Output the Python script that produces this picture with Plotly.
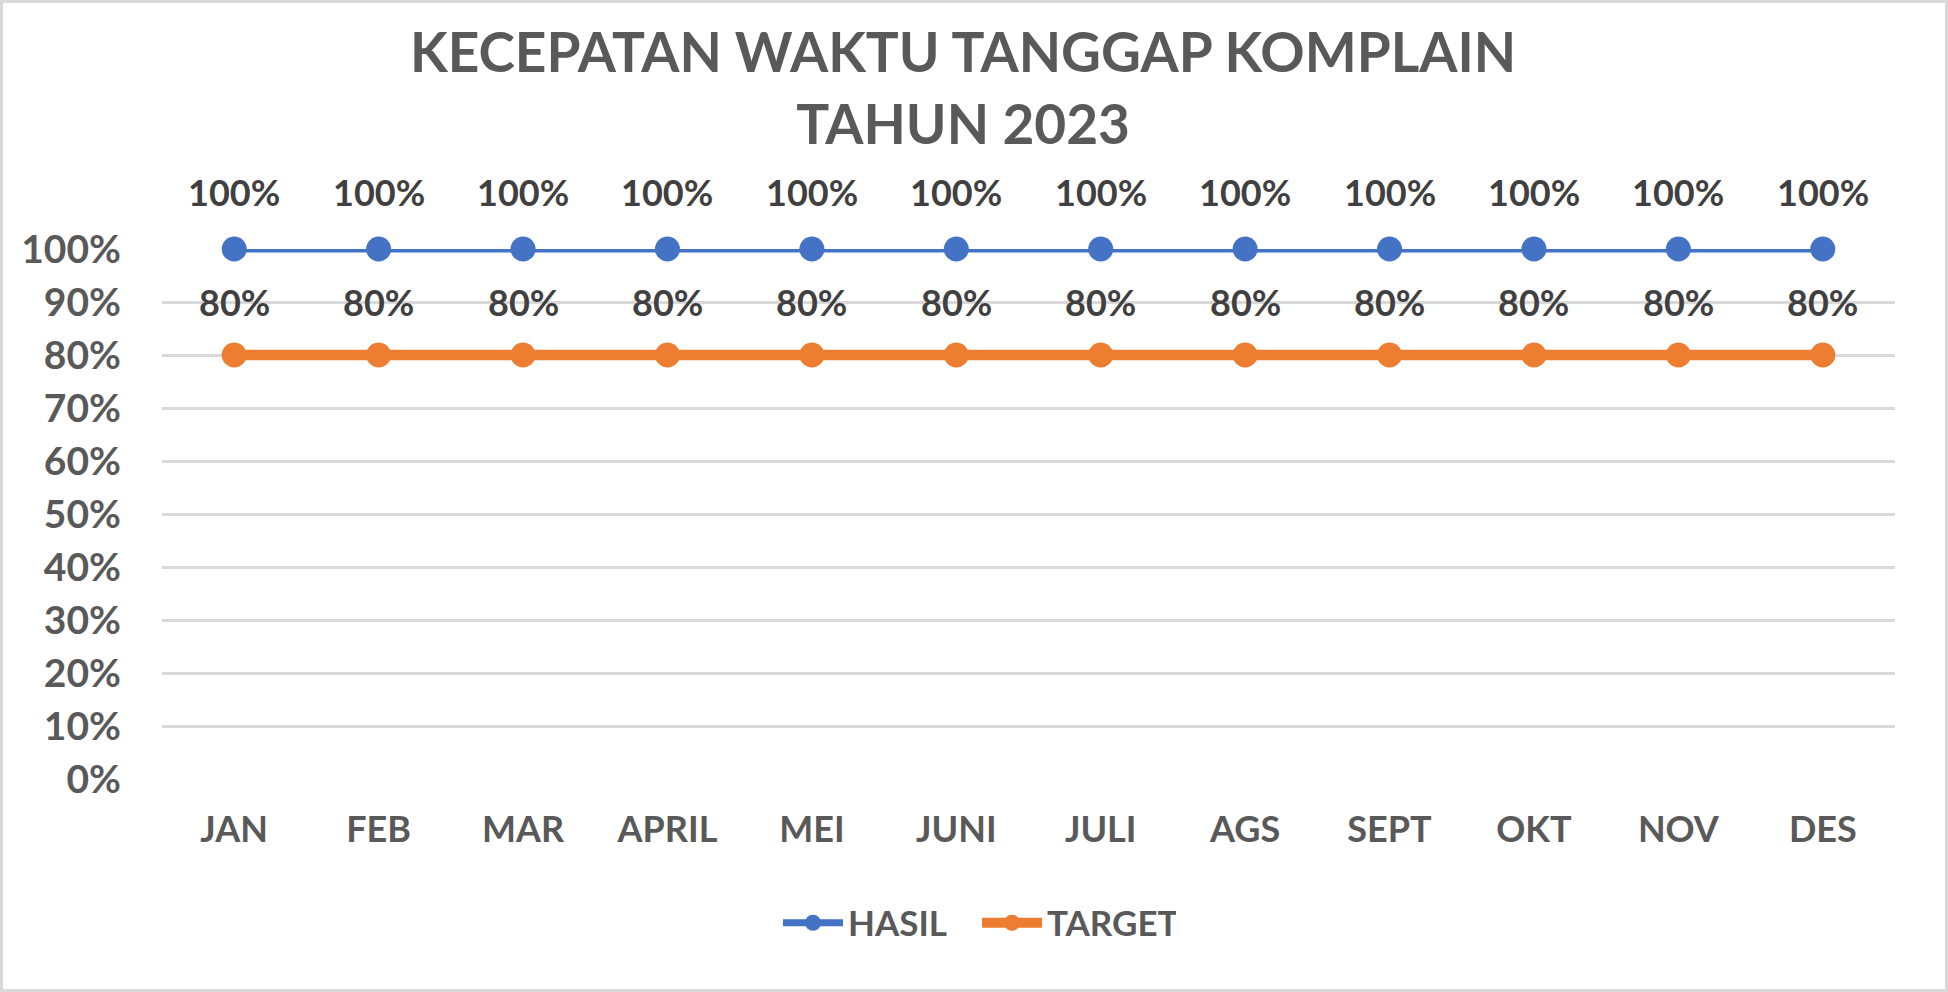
import plotly.graph_objects as go

# data
bulan = ['JAN', 'FEB', 'MAR', 'APRIL', 'MEI', 'JUNI', 'JULI', 'AGS', 'SEPT', 'OKT', 'NOV', 'DES']
hasil = [1.0, 1.0, 1.0, 1.0, 1.0, 1.0, 1.0, 1.0, 1.0, 1.0, 1.0, 1.0]
target = [0.8, 0.8, 0.8, 0.8, 0.8, 0.8, 0.8, 0.8, 0.8, 0.8, 0.8, 0.8]
y_ticks = [0, 0.1, 0.2, 0.3, 0.4, 0.5, 0.6, 0.7, 0.8, 0.9, 1.0]

W, H = 1948, 992
L, R, T, B = 162, 53, 249, 213
FONT = 'Lato'
GRAY = '#595959'
DARK = '#404040'

fig = go.Figure()

fig.add_trace(go.Scatter(x=bulan, y=hasil, name='HASIL', mode='lines+markers',
                         line=dict(color='#4472C4', width=7),
                         marker=dict(color='#4472C4', size=25),
                         cliponaxis=False))
fig.add_trace(go.Scatter(x=bulan, y=target, name='TARGET', mode='lines+markers',
                         line=dict(color='#ED7D31', width=10.5),
                         marker=dict(color='#ED7D31', size=25),
                         cliponaxis=False))

# label data di atas titik
for vals, shift in [(hasil, 57), (target, 53)]:
    for b, v in zip(bulan, vals):
        fig.add_annotation(x=b, y=v, text=f'{v:.0%}', showarrow=False,
                           yshift=shift, yanchor='middle',
                           font=dict(family=FONT, size=36, color=DARK, weight='bold'))

pw = W - L - R
ph = H - T - B

# judul
fig.add_annotation(text='KECEPATAN WAKTU TANGGAP KOMPLAIN<br>TAHUN 2023',
                   xref='paper', yref='paper',
                   x=(963 - L) / pw, y=(H - B - 16) / ph,
                   xanchor='center', yanchor='top', showarrow=False,
                   font=dict(family=FONT, size=55, color=GRAY, weight='bold'))

# garis tepi chart
fig.add_shape(type='rect', xref='paper', yref='paper',
              x0=(1.5 - L) / pw, x1=(W - 1.5 - L) / pw,
              y0=-(B - 1.5) / ph, y1=(H - B - 1.5) / ph,
              line=dict(color='#D9D9D9', width=3), layer='below')

fig.update_layout(
    width=W, height=H,
    margin=dict(l=L, r=R, t=T, b=B),
    paper_bgcolor='white', plot_bgcolor='white',
    showlegend=True,
    legend=dict(orientation='h', xref='container', yref='container',
                x=778 / W, xanchor='left', y=1 - 923 / H, yanchor='middle',
                font=dict(family=FONT, size=35, color=GRAY, weight='bold'),
                entrywidth=124, entrywidthmode='pixels', itemwidth=60),
    xaxis=dict(range=[-0.5, 11.5], showgrid=False, zeroline=False, showline=False,
               ticks='', ticklabelstandoff=26,
               tickfont=dict(family=FONT, size=36, color=GRAY, weight='bold')),
    yaxis=dict(range=[0, 1], tickvals=y_ticks, tickformat='.0%',
               showgrid=True, gridcolor='#D9D9D9', gridwidth=3,
               zeroline=False, showline=False, ticks='', ticklabelstandoff=40,
               tickfont=dict(family=FONT, size=39, color=GRAY, weight='bold')),
)

fig.write_html('out.html', config={'displayModeBar': False},
               post_script="document.body.style.margin='0';")
